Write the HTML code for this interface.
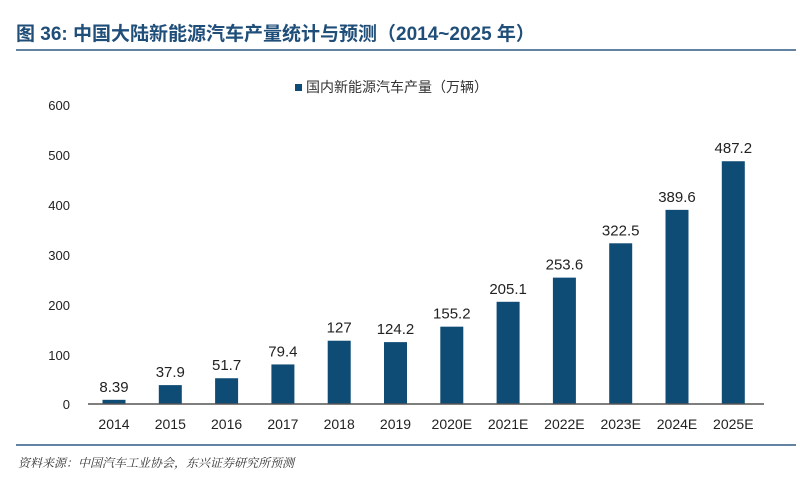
<!DOCTYPE html>
<html><head><meta charset="utf-8"><style>
body{margin:0;background:#fff;width:800px;height:486px;overflow:hidden}
svg{display:block}
</style></head><body>
<svg width="800" height="486" xmlns="http://www.w3.org/2000/svg" font-family="Liberation Sans, Noto Sans CJK SC, sans-serif">
<text x="16" y="40" font-size="19" font-weight="bold" fill="#1f4e79" font-family="Liberation Sans, Noto Sans CJK SC, sans-serif">图 36: 中国大陆新能源汽车产量统计与预测（2014~2025 年）</text>
<line x1="16" y1="50" x2="796" y2="50" stroke="#2e5a84" stroke-width="1.5"/>
<rect x="295" y="84" width="7" height="7" fill="#0f4c75"/>
<text x="306" y="92" font-size="14" fill="#333">国内新能源汽车产量（万辆）</text>
<g font-size="13" fill="#222" text-anchor="end">
<text x="70" y="110">600</text><text x="70" y="160">500</text><text x="70" y="210">400</text>
<text x="70" y="260">300</text><text x="70" y="310">200</text><text x="70" y="360">100</text><text x="70" y="409">0</text>
</g>
<g id="bars" fill="#0f4c75"></g>
<line x1="88" y1="404" x2="764" y2="404" stroke="#555" stroke-width="1.5"/>
<g id="lbl" font-size="14" fill="#222" text-anchor="middle"></g>
<line x1="16" y1="445" x2="796" y2="445" stroke="#2e5a84" stroke-width="1.5"/>
<text x="18" y="467" font-size="12" font-style="italic" fill="#333" font-family="Liberation Serif, Noto Serif CJK SC, serif">资料来源：中国汽车工业协会，东兴证券研究所预测</text>
<script>
var d=[["2014",8.39],["2015",37.9],["2016",51.7],["2017",79.4],["2018",127],["2019",124.2],["2020E",155.2],["2021E",205.1],["2022E",253.6],["2023E",322.5],["2024E",389.6],["2025E",487.2]];
var ns="http://www.w3.org/2000/svg",b=document.getElementById("bars"),l=document.getElementById("lbl");
d.forEach(function(e,i){var cx=114+56.3*i,h=e[1]*0.4983,r=document.createElementNS(ns,"rect");
r.setAttribute("x",cx-11.5);r.setAttribute("y",404-h);r.setAttribute("width",23);r.setAttribute("height",h);b.appendChild(r);
var t=document.createElementNS(ns,"text");t.setAttribute("x",cx);t.setAttribute("y",404-h-8);t.setAttribute("font-size","15");t.textContent=e[1];l.appendChild(t);
var u=document.createElementNS(ns,"text");u.setAttribute("x",cx);u.setAttribute("y",429);u.textContent=e[0];l.appendChild(u);});
</script>
</svg>
</body></html>
